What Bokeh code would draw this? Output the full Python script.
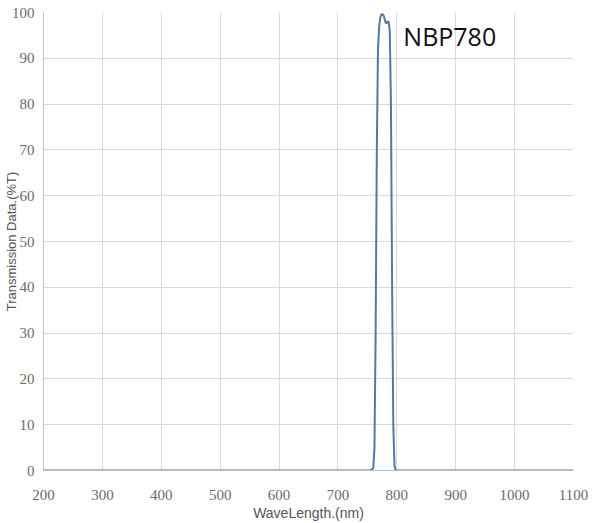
from bokeh.plotting import figure
from bokeh.models import Range1d, FixedTicker, Label
from bokeh.embed import file_html
from bokeh.resources import INLINE

wavelength = [200, 700, 755, 760, 762, 764, 766, 768, 770, 772, 774, 776, 778, 780,
              782, 784, 786, 788, 790, 792, 794, 796, 798, 850, 1100]
transmission = [0, 0, 0, 0.5, 5, 30, 70, 92, 97, 99, 99.6, 99.6, 99.2, 98.2,
                97.6, 98.0, 98.0, 96, 80, 40, 10, 1, 0, 0, 0]
x_ticks = [200, 300, 400, 500, 600, 700, 800, 900, 1000, 1100]
y_ticks = [0, 10, 20, 30, 40, 50, 60, 70, 80, 90, 100]
filter_name = "NBP780"
x_title = "WaveLength.(nm)"
y_title = "Transmission Data.(%T)"

p = figure(width=592, height=523, output_backend="svg", toolbar_location=None,
           x_range=Range1d(200, 1100), y_range=Range1d(0, 100),
           min_border_left=41, min_border_right=19, min_border_top=12,
           min_border_bottom=53)
p.outline_line_color = None
p.background_fill_color = "white"

for ax in (p.xaxis[0], p.yaxis[0]):
    ax.major_tick_line_color = None
    ax.minor_tick_line_color = None
    ax.axis_line_color = "#bfbfbf"
    ax.major_label_text_font = "Liberation Sans Narrow"
    ax.major_label_text_font_size = "15px"
    ax.major_label_text_color = "#6b6b6b"
    ax.axis_label_text_font = "Liberation Sans"
    ax.axis_label_text_font_style = "normal"
    ax.axis_label_text_color = "#555555"

p.xaxis.axis_label_text_font_size = "14px"
p.yaxis.axis_label_text_font_size = "13px"
p.xaxis.axis_label_text_line_height = 0.9
p.yaxis.axis_label_text_line_height = 0.6
p.xaxis.ticker = FixedTicker(ticks=x_ticks)
p.yaxis.ticker = FixedTicker(ticks=y_ticks)
p.xaxis.axis_label = x_title
p.yaxis.axis_label = y_title
p.xaxis.major_label_standoff = 13
p.xaxis.axis_label_standoff = 2
p.yaxis.major_label_standoff = 3
p.yaxis.axis_label_standoff = -10

p.xgrid.grid_line_color = "#d9d9d9"
p.ygrid.grid_line_color = "#d9d9d9"

p.line(wavelength, transmission, line_color="#4f7aa6", line_width=2)

p.add_layout(Label(x=811, y=94.8, text=filter_name, text_font="Open Sans",
                   text_font_size="25px", text_color="#111111",
                   text_baseline="alphabetic", text_align="left"))

open("out.html", "w").write(file_html(p, INLINE))
